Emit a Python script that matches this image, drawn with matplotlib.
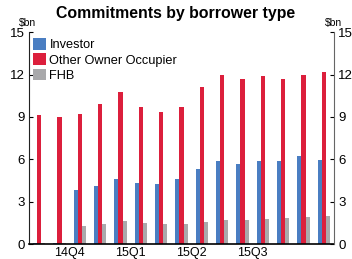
import matplotlib
matplotlib.use("Agg")
import matplotlib.pyplot as plt
import numpy as np

plt.rcParams['font.family'] = ['Liberation Sans', 'DejaVu Sans']

investor = [0.08, 0.08, 3.82, 4.1, 4.6, 4.32, 4.25, 4.6, 5.3, 5.87, 5.66, 5.87, 5.87, 6.23, 5.94]
other_oo = [9.13, 8.99, 9.2, 9.9, 10.76, 9.7, 9.34, 9.7, 11.1, 12.0, 11.68, 11.89, 11.68, 12.0, 12.17]
fhb = [0.06, 0.06, 1.27, 1.42, 1.63, 1.49, 1.42, 1.42, 1.56, 1.7, 1.7, 1.77, 1.84, 1.91, 1.98]
tick_labels = ['14Q4', '15Q1', '15Q2', '15Q3']
tick_pos = [1.5, 4.5, 7.5, 10.5]
yticks = [0, 3, 6, 9, 12, 15]

c_blue = '#4A7EC2'
c_red = '#DC1F3C'
c_grey = '#A9A9AB'

fig = plt.figure(figsize=(3.52, 2.59), dpi=100)
ax = fig.add_axes([0.0824, 0.0579, 0.8665, 0.818])
x = np.arange(len(investor))
w = 0.2
ax.bar(x - w, investor, w, color=c_blue, label='Investor')
ax.bar(x, other_oo, w, color=c_red, label='Other Owner Occupier')
ax.bar(x + w, fhb, w, color=c_grey, label='FHB')

ax.set_xlim(-0.5, 14.5)
ax.set_ylim(0, 15)
ax.set_yticks(yticks)
ax.set_xticks(tick_pos)
ax.set_xticklabels(tick_labels, fontsize=9)
ax.tick_params(axis='x', length=0, pad=2)
ax.tick_params(axis='y', direction='in', length=3, labelsize=9.5, pad=3, colors='black')
ax.spines['top'].set_visible(False)
ax.spines['right'].set_visible(False)
ax.spines['left'].set_color('#222222')
ax.spines['bottom'].set_color('black')
ax.spines['bottom'].set_linewidth(1.2)

ax2 = ax.twinx()
ax2.set_ylim(0, 15)
ax2.set_yticks(yticks)
ax2.tick_params(axis='y', direction='in', length=3, labelsize=9.5, pad=3)
for s in ['top', 'left', 'bottom']:
    ax2.spines[s].set_visible(False)
ax2.spines['right'].set_color('#666666')

fig.text(0.5, 0.948, 'Commitments by borrower type', ha='center', va='center',
         fontsize=11.4, fontweight='bold')
fig.text(0.054, 0.912, '$bn', ha='left', va='center', fontsize=7.5)
fig.text(0.922, 0.912, '$bn', ha='left', va='center', fontsize=7.5)

leg = ax.legend(loc='upper left', bbox_to_anchor=(0.0, 0.99), frameon=False,
                fontsize=9.2, handlelength=1.0, handleheight=1.0, handletextpad=0.3,
                labelspacing=0.18, borderaxespad=0.2, borderpad=0.1)

fig.savefig('out.png', dpi=100)
